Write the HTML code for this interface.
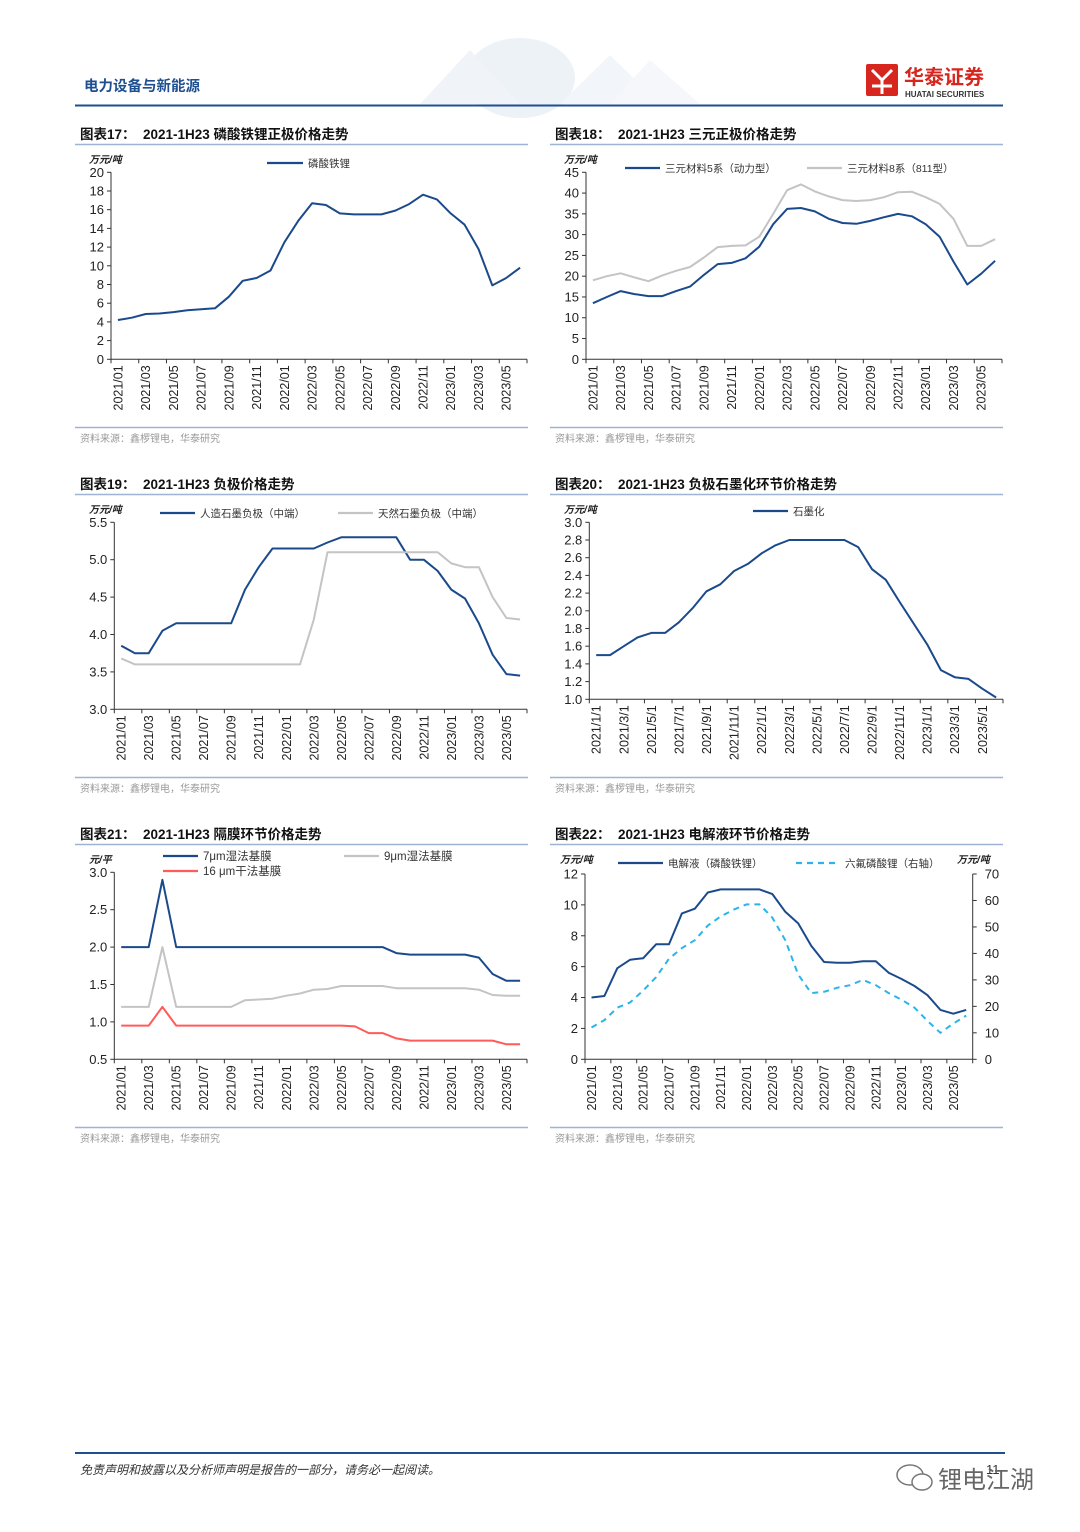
<!DOCTYPE html>
<html><head><meta charset="utf-8">
<style>
html,body{margin:0;padding:0;background:#fff;}
body{width:1080px;height:1527px;position:relative;overflow:hidden;font-family:"Liberation Sans","Noto Sans CJK SC",sans-serif;}
svg text{font-family:"Liberation Sans","Noto Sans CJK SC",sans-serif;}
</style></head>
<body>
<svg id="page" width="1080" height="1527" viewBox="0 0 1080 1527" xmlns="http://www.w3.org/2000/svg">
  <g>
    <text x="84" y="91" font-size="14.5" font-weight="bold" fill="#1d4f91">电力设备与新能源</text>
    <g opacity="0.55">
      <ellipse cx="520" cy="78" rx="55" ry="40" fill="#dfe8f2"/>
      <polygon points="420,104 470,50 520,104" fill="#e4ecf4"/>
      <polygon points="560,104 610,55 660,104" fill="#e8eef5"/>
      <polygon points="610,104 650,60 700,104" fill="#eef2f7"/>
    </g>
    <g>
      <rect x="866" y="64" width="32" height="32" fill="#d7261e" rx="2"/>
      <path d="M872 70 L882 80 L892 70 M882 80 L882 94 M872 86 L892 86" stroke="#fff" stroke-width="3" fill="none"/>
      <text x="904" y="84" font-size="20" font-weight="bold" fill="#d7261e">华泰证券</text>
      <text x="905" y="97" font-size="8" font-weight="bold" fill="#333">HUATAI SECURITIES</text>
    </g>
    <line x1="75" y1="105.5" x2="1003" y2="105.5" stroke="#1d4f91" stroke-width="2"/>
  </g>
  <g id="charts"></g>
  <g>
    <line x1="75" y1="1453" x2="1005" y2="1453" stroke="#1d4f91" stroke-width="2"/>
    <text x="80" y="1474" font-size="12" font-style="italic" fill="#333">免责声明和披露以及分析师声明是报告的一部分，请务必一起阅读。</text>
    <text x="986" y="1474" font-size="13" fill="#333">11</text>
    <g>
      <ellipse cx="910" cy="1475" rx="13" ry="10" fill="none" stroke="#777" stroke-width="1.5"/>
      <ellipse cx="922" cy="1482" rx="10" ry="8" fill="#fff" stroke="#777" stroke-width="1.5"/>
      <text x="938" y="1488" font-size="24" fill="#666">锂电江湖</text>
    </g>
  </g>
</svg>
<script>
// ---------- data ----------
const months = ["2021/01","2021/02","2021/03","2021/04","2021/05","2021/06","2021/07","2021/08","2021/09","2021/10","2021/11","2021/12","2022/01","2022/02","2022/03","2022/04","2022/05","2022/06","2022/07","2022/08","2022/09","2022/10","2022/11","2022/12","2023/01","2023/02","2023/03","2023/04","2023/05","2023/06"];
const monthsDay = ["2021/1/1","2021/2/1","2021/3/1","2021/4/1","2021/5/1","2021/6/1","2021/7/1","2021/8/1","2021/9/1","2021/10/1","2021/11/1","2021/12/1","2022/1/1","2022/2/1","2022/3/1","2022/4/1","2022/5/1","2022/6/1","2022/7/1","2022/8/1","2022/9/1","2022/10/1","2022/11/1","2022/12/1","2023/1/1","2023/2/1","2023/3/1","2023/4/1","2023/5/1","2023/6/1"];
const lfp = [4.2,4.45,4.85,4.9,5.05,5.25,5.35,5.45,6.7,8.4,8.7,9.5,12.5,14.8,16.7,16.5,15.6,15.5,15.5,15.5,15.9,16.6,17.6,17.1,15.6,14.4,11.8,7.9,8.7,9.8];
const ncm5 = [13.5,15.0,16.4,15.7,15.2,15.2,16.4,17.5,20.3,22.9,23.2,24.3,27.1,32.5,36.2,36.4,35.6,33.8,32.8,32.6,33.3,34.2,35.0,34.4,32.5,29.5,23.5,18.0,20.6,23.7];
const ncm8 = [19.0,20.0,20.7,19.7,18.8,20.2,21.3,22.2,24.5,27.0,27.3,27.4,29.5,35.0,40.7,42.1,40.4,39.2,38.3,38.1,38.3,39.0,40.2,40.3,39.0,37.4,33.8,27.3,27.3,28.9];
const artificialGraphite = [3.85,3.75,3.75,4.05,4.15,4.15,4.15,4.15,4.15,4.6,4.9,5.15,5.15,5.15,5.15,5.23,5.3,5.3,5.3,5.3,5.3,5.0,5.0,4.85,4.6,4.48,4.15,3.73,3.47,3.45];
const naturalGraphite = [3.68,3.6,3.6,3.6,3.6,3.6,3.6,3.6,3.6,3.6,3.6,3.6,3.6,3.6,4.2,5.1,5.1,5.1,5.1,5.1,5.1,5.1,5.1,5.1,4.95,4.9,4.9,4.5,4.22,4.2];
const graphitization = [1.5,1.5,1.6,1.7,1.75,1.75,1.87,2.03,2.22,2.3,2.45,2.53,2.65,2.74,2.8,2.8,2.8,2.8,2.8,2.72,2.47,2.35,2.1,1.86,1.62,1.33,1.25,1.23,1.12,1.02];
const wet7 = [2.0,2.0,2.0,2.9,2.0,2.0,2.0,2.0,2.0,2.0,2.0,2.0,2.0,2.0,2.0,2.0,2.0,2.0,2.0,2.0,1.92,1.9,1.9,1.9,1.9,1.9,1.86,1.64,1.55,1.55];
const wet9 = [1.2,1.2,1.2,2.0,1.2,1.2,1.2,1.2,1.2,1.29,1.3,1.31,1.35,1.38,1.43,1.44,1.48,1.48,1.48,1.48,1.45,1.45,1.45,1.45,1.45,1.45,1.43,1.36,1.35,1.35];
const dry16 = [0.95,0.95,0.95,1.2,0.95,0.95,0.95,0.95,0.95,0.95,0.95,0.95,0.95,0.95,0.95,0.95,0.95,0.94,0.85,0.85,0.78,0.75,0.75,0.75,0.75,0.75,0.75,0.75,0.7,0.7];
const electrolyte = [4.0,4.1,5.9,6.45,6.55,7.45,7.45,9.45,9.75,10.8,11.0,11.0,11.0,11.0,10.7,9.55,8.8,7.35,6.3,6.25,6.25,6.35,6.35,5.6,5.2,4.75,4.15,3.2,2.95,3.2];
const lipf6 = [12,14.8,19.5,21.5,26,31,38,42,45,50.5,54,56.5,58.5,58.5,53.5,45,32,25,25.5,27,28,30,28,25,22.5,19.5,14.5,10,13.5,16.5];
const ticks17 = [0,2,4,6,8,10,12,14,16,18,20];
const ticks18 = [0,5,10,15,20,25,30,35,40,45];
const ticks19 = ["3.0","3.5","4.0","4.5","5.0","5.5"];
const ticks20 = ["1.0","1.2","1.4","1.6","1.8","2.0","2.2","2.4","2.6","2.8","3.0"];
const ticks21 = ["0.5","1.0","1.5","2.0","2.5","3.0"];
const ticks22L = [0,2,4,6,8,10,12];
const ticks22R = [0,10,20,30,40,50,60,70];

const NS="http://www.w3.org/2000/svg";
const root=document.getElementById('charts');
function el(tag,attrs,parent,txt){const e=document.createElementNS(NS,tag);for(const k in attrs)e.setAttribute(k,attrs[k]);if(txt!==undefined)e.textContent=txt;(parent||root).appendChild(e);return e;}

const BLUE="#1b4a8c", GRAY="#c4c4c4", RED="#ff5b5b", CYAN="#2bb4ea";

function chart(cfg){
  const g=el('g',{transform:`translate(${cfg.ox},${cfg.oy})`});
  
  
  // title
  const t1=el('text',{x:5,y:19,'font-size':13.5,'font-weight':'bold',fill:'#111'},g,cfg.fig);
  
  
  const t2=el('text',{x:68,y:19,'font-size':13.5,'font-weight':'bold',fill:'#111'},g,cfg.title);
  
  
  el('line',{x1:0,y1:24.5,x2:453,y2:24.5,stroke:'#9fb4d4','stroke-width':1.5},g);
  el('line',{x1:0,y1:307.5,x2:453,y2:307.5,stroke:'#9fb4d4','stroke-width':1.5},g);
  const src=el('text',{x:5,y:322,'font-size':10,fill:'#9a9a9a'},g,'资料来源：鑫椤锂电，华泰研究');
  
  
  const u=el('text',{x:cfg.unitX,y:43,'font-size':10,'font-weight':'bold','font-style':'italic',fill:'#222'},g,cfg.unit);
  
  
  if(cfg.unitR){const ur=el('text',{x:cfg.unitRX,y:43,'font-size':10,'font-weight':'bold','font-style':'italic',fill:'#222'},g,cfg.unitR);
    
    }
  const L=cfg.left,R=cfg.right,T=cfg.top,B=cfg.bottom,n=cfg.labels.length,bw=(R-L)/n;
  const xs=i=>L+bw*(i+0.5);
  const ys=(v,mn,mx)=>B-(v-mn)/(mx-mn)*(B-T);
  // axes
  el('line',{x1:L,y1:T,x2:L,y2:B,stroke:'#333','stroke-width':1},g);
  el('line',{x1:L,y1:B,x2:R,y2:B,stroke:'#333','stroke-width':1},g);
  const ymin=+cfg.ticks[0],ymax=+cfg.ticks[cfg.ticks.length-1];
  cfg.ticks.forEach(tv=>{const y=ys(+tv,ymin,ymax);
    el('line',{x1:L-4,y1:y,x2:L,y2:y,stroke:'#333'},g);
    const tt=el('text',{x:L-7,y:y+4.5,'font-size':13,'text-anchor':'end',fill:'#222'},g,String(tv));
    
    
  });
  if(cfg.ticksR){
    el('line',{x1:R,y1:T,x2:R,y2:B,stroke:'#333','stroke-width':1},g);
    const rmin=cfg.ticksR[0],rmax=cfg.ticksR[cfg.ticksR.length-1];
    cfg.ticksR.forEach(tv=>{const y=ys(tv,rmin,rmax);
      el('line',{x1:R,y1:y,x2:R+4,y2:y,stroke:'#333'},g);
      const tt=el('text',{x:R+12,y:y+4.5,'font-size':13,fill:'#222'},g,String(tv));
      
      
    });
  }
  for(let i=0;i<=n;i+=2){const x=L+bw*i;el('line',{x1:x,y1:B,x2:x,y2:B+4,stroke:'#333'},g);}
  cfg.labels.forEach((lab,i)=>{ if(i%2) return;
    const x=xs(i)+4.5,y=B+6;
    const tt=el('text',{x:x,y:y,'font-size':12.5,'text-anchor':'end',fill:'#222',transform:`rotate(-90 ${x} ${y})`},g,lab);
    
    
  });
  cfg.series.forEach(s=>{
    const mn=s.right?cfg.ticksR[0]:ymin, mx=s.right?cfg.ticksR[cfg.ticksR.length-1]:ymax;
    const pts=s.data.map((v,i)=>xs(i).toFixed(1)+','+ys(v,mn,mx).toFixed(1)).join(' ');
    const p=el('polyline',{points:pts,fill:'none',stroke:s.color,'stroke-width':2,'stroke-linejoin':'round'},g);
    if(s.dash)p.setAttribute('stroke-dasharray','6 5');
    
    
    const lg=el('g',{},g);
    
    
    const ll=el('line',{x1:s.lx,y1:s.ly,x2:s.lx2,y2:s.ly,stroke:s.color,'stroke-width':2.2},lg);
    if(s.dash)ll.setAttribute('stroke-dasharray','6 5');
    el('text',{x:s.lx2+5,y:s.ly+4,'font-size':s.fs||10.5,fill:'#333'},lg,s.label);
  });
}

chart({ox:75,oy:120,name:'chart-lfp-cathode',fig:'图表17：',title:'2021-1H23 磷酸铁锂正极价格走势',unit:'万元/吨',unitX:14,
  left:36,right:452,top:52.3,bottom:239.3,labels:months,ticks:ticks17,
  series:[{name:'line-lfp',data:lfp,color:BLUE,label:'磷酸铁锂',lx:192,lx2:228,ly:43}]});
chart({ox:550,oy:120,name:'chart-ncm-cathode',fig:'图表18：',title:'2021-1H23 三元正极价格走势',unit:'万元/吨',unitX:14,
  left:36,right:452,top:52.3,bottom:239.3,labels:months,ticks:ticks18,
  series:[{name:'line-ncm5',data:ncm5,color:BLUE,label:'三元材料5系（动力型）',lx:75,lx2:110,ly:48},
          {name:'line-ncm811',data:ncm8,color:GRAY,label:'三元材料8系（811型）',lx:257,lx2:292,ly:48}]});
chart({ox:75,oy:470,name:'chart-anode',fig:'图表19：',title:'2021-1H23 负极价格走势',unit:'万元/吨',unitX:14,
  left:39.3,right:452,top:52.3,bottom:239.3,labels:months,ticks:ticks19,
  series:[{name:'line-artificial-graphite',data:artificialGraphite,color:BLUE,label:'人造石墨负极（中端）',lx:85,lx2:120,ly:43},
          {name:'line-natural-graphite',data:naturalGraphite,color:GRAY,label:'天然石墨负极（中端）',lx:263,lx2:298,ly:43}]});
chart({ox:550,oy:470,name:'chart-graphitization',fig:'图表20：',title:'2021-1H23 负极石墨化环节价格走势',unit:'万元/吨',unitX:14,
  left:39.3,right:453,top:52.3,bottom:229.3,labels:monthsDay,ticks:ticks20,
  series:[{name:'line-graphitization',data:graphitization,color:BLUE,label:'石墨化',lx:203,lx2:238,ly:41}]});
chart({ox:75,oy:820,name:'chart-separator',fig:'图表21：',title:'2021-1H23 隔膜环节价格走势',unit:'元/平',unitX:14,
  left:39.3,right:452,top:52.3,bottom:239.3,labels:months,ticks:ticks21,
  series:[{name:'line-7um-wet',data:wet7,color:BLUE,label:'7μm湿法基膜',lx:88,lx2:123,ly:36,fs:11.5},
          {name:'line-9um-wet',data:wet9,color:GRAY,label:'9μm湿法基膜',lx:269,lx2:304,ly:36,fs:11.5},
          {name:'line-16um-dry',data:dry16,color:RED,label:'16 μm干法基膜',lx:88,lx2:123,ly:51,fs:11.5}]});
chart({ox:550,oy:820,name:'chart-electrolyte',fig:'图表22：',title:'2021-1H23 电解液环节价格走势',unit:'万元/吨',unitX:10,unitR:'万元/吨',unitRX:407,
  left:35,right:422.7,top:54,bottom:239.3,labels:months,ticks:ticks22L,ticksR:ticks22R,
  series:[{name:'line-electrolyte-lfp',data:electrolyte,color:BLUE,label:'电解液（磷酸铁锂）',lx:68,lx2:113,ly:43},
          {name:'line-lipf6',data:lipf6,color:CYAN,dash:true,right:true,label:'六氟磷酸锂（右轴）',lx:246,lx2:290,ly:43}]});
</script>
</body></html>
